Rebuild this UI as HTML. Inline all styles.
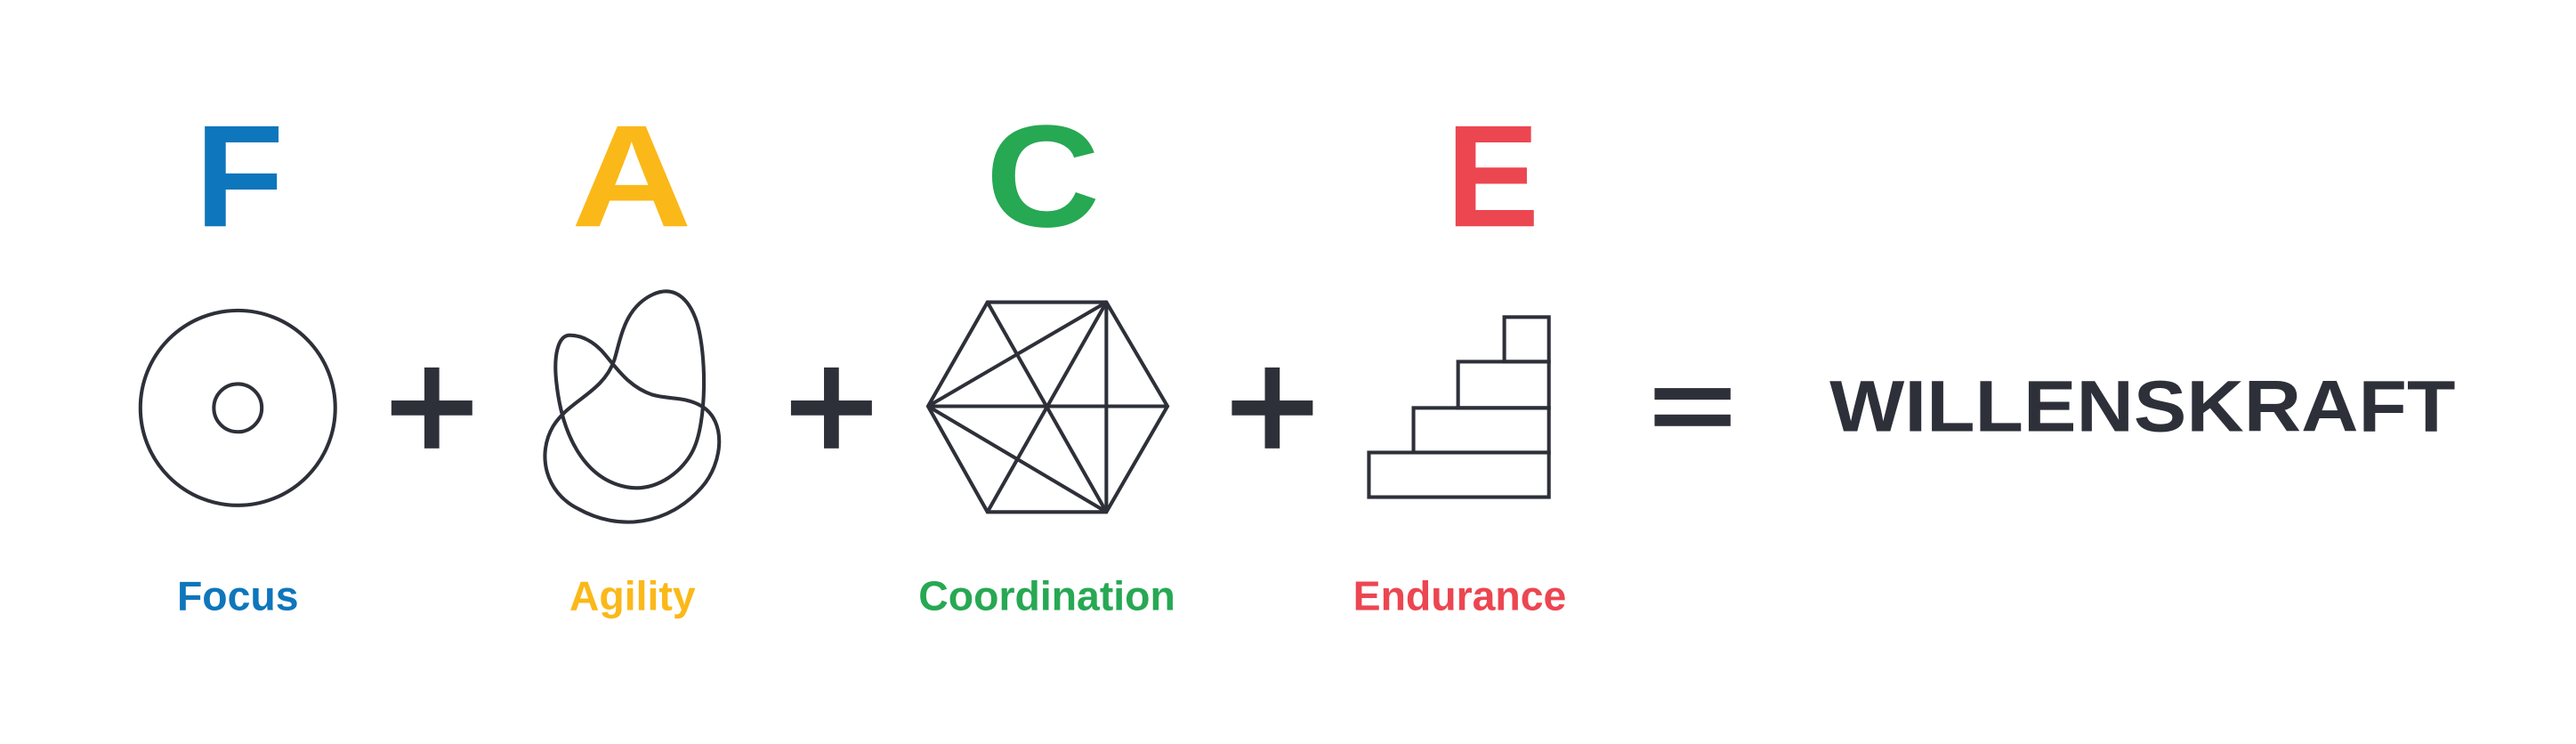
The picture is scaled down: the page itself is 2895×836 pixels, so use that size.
<!DOCTYPE html>
<html><head><meta charset="utf-8"><style>
html,body{margin:0;padding:0;background:#fff;width:2895px;height:836px;overflow:hidden}
svg{display:block}
text{font-family:"Liberation Sans",sans-serif;font-weight:bold}
</style></head><body>
<svg width="2895" height="836" viewBox="0 0 1560 450.5" xmlns="http://www.w3.org/2000/svg">
<rect width="1560" height="450.5" fill="#fff"/>
<!-- big letters -->
<text x="145" y="137" font-size="88" fill="#0e76bc" text-anchor="middle">F</text>
<g transform="translate(382.5 0) scale(1.15 1) translate(-382.5 0)"><text x="382.5" y="137" font-size="88" fill="#fbb819" text-anchor="middle">A</text></g>
<g transform="translate(631.5 0) scale(1.09 1) translate(-631.5 0)"><text x="631.5" y="137" font-size="88" fill="#27a853" text-anchor="middle">C</text></g>
<g transform="translate(904 0) scale(0.96 1) translate(-904 0)"><text x="904" y="137" font-size="88" fill="#ec4651" text-anchor="middle">E</text></g>
<g fill="none" stroke="#2e3039" stroke-width="2.2">
<circle cx="144" cy="247" r="59"/>
<circle cx="144" cy="247" r="14.5"/>
<path d="M345,203 C338,203 335,215 337,232 C340,260 352,290 380,295 C398,298 414,285 420,272 C428,255 428,215 422,195 C417,180 408,173 396,178 C378,186 376,205 372,218 C365,238 345,242 335,258 C325,275 330,298 350,308 C375,322 405,318 425,295 C438,280 440,255 425,246 C415,240 405,242 395,239 C380,234 373,222 364,212 C358,206 352,203 345,203 Z"/>
<polygon points="562,246 598,183 670,183 707,246 670,310 598,310"/>
<line x1="562" y1="246" x2="707" y2="246"/>
<line x1="670" y1="183" x2="670" y2="310"/>
<line x1="598" y1="183" x2="670" y2="310"/>
<line x1="670" y1="183" x2="598" y2="310"/>
<line x1="670" y1="183" x2="562" y2="246"/>
<line x1="562" y1="246" x2="670" y2="310"/>
<rect x="829" y="274" width="109" height="27"/>
<rect x="856" y="247" width="82" height="27"/>
<rect x="883" y="219" width="55" height="28"/>
<rect x="911" y="192" width="27" height="27"/>
</g>
<g fill="#2e3039">
<rect x="237" y="242.5" width="49" height="9"/><rect x="257" y="222.5" width="9" height="49"/>
<rect x="479" y="242.5" width="49" height="9"/><rect x="499" y="222.5" width="9" height="49"/>
<rect x="746" y="242.5" width="49" height="9"/><rect x="766" y="222.5" width="9" height="49"/>
<rect x="1002" y="235" width="46" height="7"/><rect x="1002" y="251" width="46" height="7"/>
</g>
<text x="1108" y="261" font-size="44" fill="#2e3039" textLength="379" lengthAdjust="spacingAndGlyphs">WILLENSKRAFT</text>
<text x="144" y="369.5" font-size="25" fill="#0e76bc" text-anchor="middle">Focus</text>
<text x="383" y="369.5" font-size="25" fill="#fbb819" text-anchor="middle">Agility</text>
<text x="634" y="369.5" font-size="25" fill="#27a853" text-anchor="middle">Coordination</text>
<text x="884" y="369.5" font-size="25" fill="#ec4651" text-anchor="middle">Endurance</text>
</svg>
</body></html>
